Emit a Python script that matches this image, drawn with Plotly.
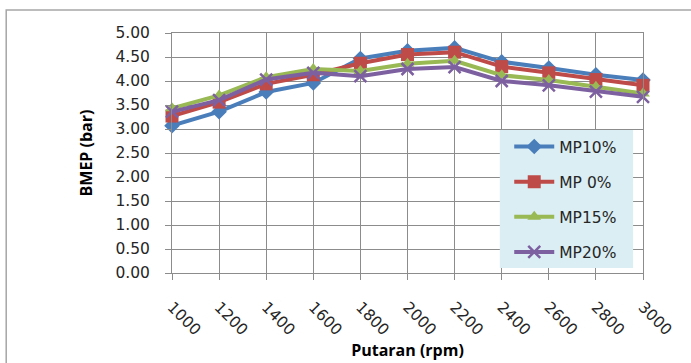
import plotly.graph_objects as go

rpm = [1000, 1200, 1400, 1600, 1800, 2000, 2200, 2400, 2600, 2800, 3000]
mp10 = [3.07, 3.36, 3.77, 3.96, 4.47, 4.63, 4.69, 4.40, 4.27, 4.13, 4.02]
mp0 = [3.27, 3.56, 3.94, 4.13, 4.37, 4.55, 4.60, 4.30, 4.17, 4.03, 3.91]
mp15 = [3.43, 3.70, 4.08, 4.25, 4.21, 4.36, 4.42, 4.12, 4.02, 3.88, 3.74]
mp20 = [3.36, 3.60, 4.03, 4.17, 4.10, 4.25, 4.29, 4.00, 3.91, 3.78, 3.67]
series_names = ["MP10%", "MP 0%", "MP15%", "MP20%"]
tick_labels = [str(v) for v in rpm]

colors = ["#4a7ebb", "#be4b48", "#98b954", "#7d60a0"]
symbols = ["diamond", "square", "triangle-up", "x-thin"]
sizes = [12, 13, 12, 12]

fig = go.Figure()
for i, (name, vals) in enumerate(zip(series_names, [mp10, mp0, mp15, mp20])):
    marker = dict(symbol=symbols[i], size=sizes[i], color=colors[i])
    if symbols[i] == "x-thin":
        marker["line"] = dict(color=colors[i], width=2.5)
    fig.add_trace(go.Scatter(
        x=rpm, y=vals, name=name, mode="lines+markers",
        line=dict(color=colors[i], width=4),
        marker=marker, cliponaxis=False, legendgroup=name,
    ))

tick_font = dict(family="DejaVu Sans", size=15.5, color="#262626")
title_font = dict(family="'Open Sans', sans-serif", size=16, color="#000000")

fig.update_layout(
    width=691, height=363,
    margin=dict(l=172, r=48, t=33, b=90, autoexpand=False),
    plot_bgcolor="white", paper_bgcolor="white",
    font=tick_font,
    showlegend=True,
    legend=dict(
        x=0.716, y=0.596, xanchor="left", yanchor="top",
        bgcolor="rgba(0,0,0,0)", borderwidth=0,
        font=dict(family="DejaVu Sans", size=15.5, color="#262626"),
        tracegroupgap=12, traceorder="grouped",
        itemwidth=40,
    ),
    xaxis=dict(
        range=[1000, 3000], tickvals=rpm, ticktext=tick_labels,
        tickangle=45, showgrid=True, gridcolor="#8c8c8c", gridwidth=1,
        showline=True, linecolor="#8c8c8c", linewidth=1, mirror=True,
        ticks="outside", ticklen=6, tickcolor="#8c8c8c",
        tickfont=tick_font, ticklabelstandoff=12,
        zeroline=False, automargin=False,
        title=dict(text="<b>Putaran (rpm)</b>", font=title_font, standoff=6),
    ),
    yaxis=dict(
        range=[0, 5], dtick=0.5, tickformat=".2f",
        showgrid=True, gridcolor="#8c8c8c", gridwidth=1,
        showline=True, linecolor="#8c8c8c", linewidth=1, mirror=True,
        ticks="outside", ticklen=6, tickcolor="#8c8c8c",
        tickfont=tick_font, ticklabelstandoff=12,
        zeroline=False, automargin=False,
        title=dict(text="<b>BMEP (bar)</b>", font=title_font, standoff=18),
    ),
    shapes=[
        dict(
            type="rect", xref="paper", yref="paper",
            x0=-0.352, x1=1.2, y0=-0.6, y1=1.096,
            line=dict(color="#a6a6a6", width=1.5), fillcolor="rgba(0,0,0,0)",
            layer="below",
        ),
        dict(
            type="rect", xref="paper", yref="paper",
            x0=0.696, x1=0.979, y0=0.021, y1=0.596,
            line=dict(width=0), fillcolor="#dbeef4",
            layer="above",
        ),
    ],
)

fig.write_html("out.html")
